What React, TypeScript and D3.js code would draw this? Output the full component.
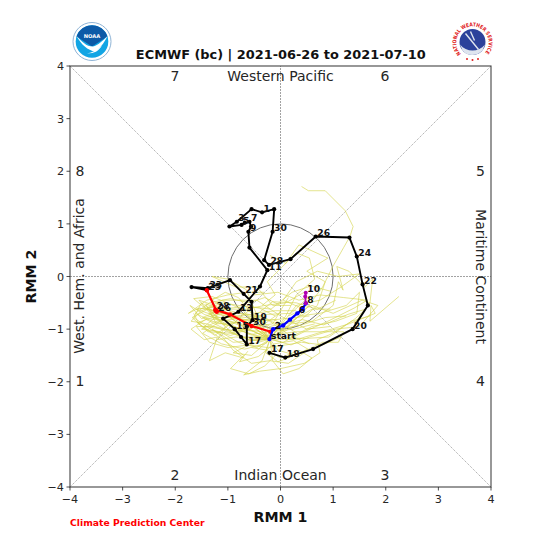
import React from "react";
import * as d3 from "d3";

type P = [number, number];

const titleText = "ECMWF (bc) | 2021-06-26 to 2021-07-10";
const axisTicks = [-4, -3, -2, -1, 0, 1, 2, 3, 4];

// Observed trajectory [rmm1, rmm2, label]
const observed: [number, number, string][] = [
  [-0.21, -1.45, "17"], [0.09, -1.54, "18"], [0.62, -1.38, ""], [1.37, -1.0, "20"], [1.66, -0.55, ""],
  [1.56, -0.15, "22"], [1.45, 0.38, "24"], [1.31, 0.74, ""], [0.67, 0.76, "26"], [0.19, 0.33, ""],
  [-0.22, 0.22, "28"], [-0.31, 0.31, ""], [-0.15, 0.85, "30"], [-0.12, 1.28, ""], [-0.35, 1.22, "1"],
  [-0.55, 1.28, ""], [-0.83, 1.04, "3"], [-0.97, 0.95, ""], [-0.74, 0.98, "5"], [-0.68, 1.02, ""],
  [-0.59, 1.04, "7"], [-0.56, 0.95, ""], [-0.61, 0.85, "9"], [-0.59, 0.55, ""], [-0.25, 0.12, "11"],
  [-0.39, -0.19, ""], [-0.8, -0.67, "13"], [-1.09, -0.8, ""], [-0.87, -1.0, "15"], [-0.75, -1.15, ""],
  [-0.64, -1.29, "17"], [-0.64, -0.95, ""], [-0.53, -0.83, "19"], [-0.55, -0.48, ""], [-0.7, -0.33, "21"],
  [-0.96, -0.07, ""], [-1.38, -0.22, "23"], [-1.69, -0.2, ""], [-1.4, -0.26, "25"],
];
const redPath: [number, number, string][] = [
  [-1.4, -0.26, ""], [-1.21, -0.67, "26"], [-1.23, -0.65, ""], [-1.24, -0.63, "28"], [-0.96, -0.72, ""],
  [-0.55, -0.94, "30"], [-0.19, -1.05, ""],
];
const bluePath: [number, number, string][] = [
  [-0.21, -1.19, "start"], [-0.14, -1.0, "2"], [0.05, -0.93, ""], [0.18, -0.82, ""], [0.32, -0.7, "6"],
  [0.42, -0.62, ""], [0.48, -0.51, "8"],
];
const magentaPath: [number, number, string][] = [
  [0.48, -0.51, ""], [0.47, -0.38, ""], [0.48, -0.31, "10"],
];

// Ensemble members, read by eye
const members: P[][] = [
  [[-0.2,-1.19],[0.1,-1.0],[0.5,-0.6],[0.8,-0.2],[1.0,0.2],[1.2,0.55],[1.32,0.76],[1.38,0.95],[1.23,1.25],[0.85,1.63],[0.53,1.63],[0.4,1.71]],
  [[-0.2,-1.19],[0.3,-1.2],[0.8,-1.05],[1.3,-0.9],[1.8,-0.7],[1.72,-0.55],[1.7,-0.85],[2.25,-0.38]],
  [[-0.2,-1.19],[0.2,-0.9],[0.6,-0.85],[1.0,-0.55],[1.1,-0.1],[1.19,-0.26],[1.07,0.19],[1.3,0.1],[1.6,-0.2],[1.75,-0.05],[1.7,-0.5],[1.4,-0.9]],
  [[-0.2,-1.19],[-0.6,-1.2],[-1.0,-1.05],[-1.4,-0.9],[-1.7,-0.85],[-1.5,-0.65],[-1.1,-0.5],[-0.8,-0.55],[-0.4,-0.6],[-0.1,-0.75]],
  [[-0.2,-1.19],[-0.5,-1.05],[-0.9,-0.95],[-1.3,-0.85],[-1.62,-0.7],[-1.35,-0.5],[-0.95,-0.42],[-0.6,-0.5],[-0.3,-0.4],[0.0,-0.55]],
  [[-0.2,-1.19],[-0.55,-0.95],[-0.95,-0.85],[-1.4,-0.8],[-1.7,-1.0],[-1.45,-1.2],[-1.2,-1.15],[-1.35,-1.6],[-1.05,-1.45],[-0.7,-1.55]],
  [[-0.2,-1.19],[-0.45,-1.35],[-0.8,-1.25],[-1.15,-1.05],[-1.5,-1.0],[-1.2,-0.85],[-0.8,-0.8],[-0.4,-0.85],[0.1,-0.8],[0.55,-0.75]],
  [[-0.2,-1.19],[-0.1,-1.5],[-0.3,-1.7],[-0.6,-1.85],[-0.95,-1.75],[-0.7,-1.5],[-0.95,-1.3],[-1.25,-1.1],[-1.55,-0.9],[-1.65,-0.7]],
  [[-0.2,-1.19],[-0.05,-1.4],[0.3,-1.5],[0.8,-1.25],[1.1,-1.25],[1.2,-1.05],[0.75,-1.05],[0.3,-1.05],[-0.1,-1.1],[-0.5,-1.15]],
  [[-0.2,-1.19],[-0.35,-1.6],[-0.7,-1.87],[-0.4,-1.8],[0.0,-1.75],[0.45,-1.65],[0.75,-1.45],[0.7,-1.2],[0.95,-1.1],[1.35,-0.85],[1.7,-0.75]],
  [[-0.2,-1.19],[0.05,-1.25],[0.45,-1.05],[0.9,-0.85],[1.4,-0.6],[1.65,-0.45],[1.2,-0.4],[0.75,-0.35],[0.35,-0.45],[-0.05,-0.3],[-0.5,-0.35]],
  [[-0.2,-1.19],[-0.7,-1.05],[-1.1,-1.0],[-1.45,-0.95],[-1.2,-0.75],[-1.5,-0.55],[-1.65,-0.42],[-1.3,-0.38],[-0.9,-0.55],[-0.5,-0.7],[-0.1,-0.65],[0.3,-0.65]],
  [[-0.2,-1.19],[-0.6,-1.1],[-1.05,-0.85],[-1.45,-0.72],[-1.72,-0.55],[-1.5,-0.8],[-1.1,-0.7],[-0.75,-0.7],[-0.35,-0.75],[0.0,-0.95]],
  [[-0.2,-1.19],[-0.25,-0.95],[-0.55,-0.7],[-0.8,-0.4],[-1.05,-0.3],[-1.3,-0.45],[-1.05,-0.6],[-0.7,-0.85],[-0.35,-1.0]],
  [[-0.2,-1.19],[-0.45,-1.15],[-0.85,-1.15],[-1.2,-1.2],[-1.05,-0.95],[-1.35,-0.7],[-1.0,-0.62],[-0.65,-0.62],[-0.3,-0.55],[0.1,-0.5],[0.45,-0.3]],
  [[-0.2,-1.19],[0.0,-1.05],[0.35,-0.75],[0.75,-0.7],[1.25,-0.55],[1.5,-0.3],[1.45,-0.7],[1.05,-0.85],[0.6,-0.95],[0.2,-1.15]],
  [[-0.2,-1.19],[0.1,-0.75],[0.3,-0.35],[0.65,-0.05],[0.55,0.35],[0.3,0.45],[0.05,0.2],[-0.25,-0.1],[-0.1,-0.35],[-0.35,-0.55]],
  [[-0.2,-1.19],[0.25,-0.95],[0.7,-0.55],[0.85,-0.1],[0.5,0.1],[0.9,0.35],[0.35,0.6],[0.1,0.25],[-0.2,0.4]],
  [[-0.2,-1.19],[-0.4,-0.85],[-0.65,-0.25],[-1.0,-0.05],[-1.3,0.0],[-0.85,-0.2],[-0.45,-0.2],[-0.15,-0.55],[0.2,-0.55]],
  [[-0.2,-1.19],[0.2,-1.3],[0.55,-1.15],[1.05,-1.0],[1.5,-0.95],[1.85,-0.55],[1.55,-0.45],[1.0,-0.7],[0.6,-0.55],[0.15,-0.75]],
  [[-0.2,-1.19],[-0.6,-1.3],[-1.0,-1.35],[-1.35,-1.25],[-1.6,-0.95],[-1.25,-0.95],[-0.85,-1.05],[-0.5,-0.95],[-0.15,-0.9],[0.15,-0.4]],
  [[-0.2,-1.19],[-0.55,-1.5],[-0.9,-1.45],[-0.6,-1.3],[-0.25,-1.35],[0.1,-1.3],[0.4,-1.25],[0.8,-1.3],[1.15,-1.15]],
  [[-0.2,-1.19],[-0.5,-0.8],[-0.9,-0.75],[-1.25,-0.65],[-1.55,-0.6],[-1.75,-0.7],[-1.4,-0.45],[-1.0,-0.35],[-0.65,-0.3],[-0.3,-0.3]],
  [[-0.2,-1.19],[0.3,-0.55],[0.75,-0.45],[1.15,-0.2],[1.5,0.05],[1.1,0.0],[0.7,0.1],[0.3,-0.1],[0.05,-0.45],[0.4,-0.6]],
  [[-0.2,-1.19],[-0.15,-1.6],[0.05,-1.85],[0.35,-1.75],[0.6,-1.55],[0.35,-1.4],[0.0,-1.55],[-0.25,-1.4],[-0.55,-1.35]],
  [[-0.2,-1.19],[-0.8,-0.9],[-1.25,-0.55],[-1.55,-0.45],[-1.3,-0.75],[-0.95,-0.95],[-0.55,-1.1],[-0.2,-1.05],[0.25,-1.0],[0.65,-0.9]],
  [[-0.2,-1.19],[-0.35,-1.05],[-0.75,-1.0],[-1.1,-0.9],[-1.4,-0.6],[-1.1,-0.45],[-0.75,-0.45],[-0.45,-0.45],[0.0,-0.75],[0.5,-1.0],[0.95,-0.95]],
  [[-0.2,-1.19],[-0.9,-1.25],[-1.3,-1.0],[-1.1,-1.15],[-0.9,-1.4],[-0.55,-1.65],[-0.2,-1.6],[0.15,-1.65],[0.45,-1.45]],
  [[-0.2,-1.19],[-0.65,-0.98],[-1.15,-0.78],[-1.6,-0.62],[-1.2,-0.58],[-0.85,-0.68],[-0.5,-0.78],[-0.2,-0.95],[0.2,-0.85],[0.6,-0.62],[0.95,-0.62]],
  [[-0.2,-1.19],[-0.7,-0.82],[-1.2,-0.72],[-1.5,-0.5],[-1.65,-0.78],[-1.3,-1.02],[-0.95,-1.12],[-0.6,-1.0],[-0.3,-0.9],[0.0,-0.68]],
  [[-0.2,-1.19],[-0.4,-0.98],[-0.85,-0.78],[-1.3,-0.78],[-1.58,-0.88],[-1.25,-1.12],[-0.95,-0.9],[-0.65,-0.82],[-0.25,-0.72],[0.2,-0.7],[0.5,-0.42]],
  [[-0.2,-1.19],[-0.55,-1.22],[-0.95,-1.05],[-1.35,-0.62],[-1.05,-0.72],[-0.7,-0.95],[-0.45,-0.72],[-0.15,-0.48],[0.3,-0.5],[0.7,-0.62],[1.05,-0.45]],
  [[-0.2,-1.19],[-0.75,-1.15],[-1.25,-0.9],[-1.48,-0.78],[-1.12,-0.62],[-0.78,-0.58],[-0.42,-0.95],[-0.05,-1.0],[0.4,-0.92],[0.85,-0.78],[1.25,-0.75]],
  [[-0.2,-1.19],[-0.62,-0.88],[-1.02,-0.68],[-1.42,-0.52],[-1.22,-0.9],[-0.88,-0.88],[-0.52,-0.58],[-0.18,-0.62],[0.22,-0.3],[0.58,-0.18],[0.95,-0.28]],
  [[-0.2,-1.19],[-0.3,-1.28],[-0.68,-1.38],[-1.12,-1.28],[-1.48,-1.08],[-1.05,-0.78],[-0.62,-0.72],[-0.25,-0.82],[0.18,-1.12],[0.55,-1.28]],
  [[-0.2,-1.19],[-0.48,-0.9],[-0.92,-1.08],[-1.38,-1.05],[-1.68,-0.78],[-1.38,-0.62],[-0.98,-0.78],[-0.55,-0.85],[-0.12,-0.82],[0.32,-1.08]],
  [[-0.2,-1.19],[-0.02,-1.15],[0.42,-1.18],[0.92,-1.15],[1.42,-0.8],[1.62,-0.62],[1.28,-0.72],[0.82,-0.92],[0.42,-0.82],[0.02,-0.92],[-0.28,-1.28]],
  [[-0.2,-1.19],[-0.28,-1.45],[-0.05,-1.62],[0.22,-1.52],[0.52,-1.38],[0.25,-1.22],[-0.12,-1.28],[-0.42,-1.52],[-0.78,-1.62],[-0.62,-1.42]],
];

const W = 547;
const x = d3.scaleLinear().domain([-4, 4]).range([70, 491]);
const y = d3.scaleLinear().domain([-4, 4]).range([487, 66]);
const path = d3.line<any>().x((d) => x(d[0])).y((d) => y(d[1]));

const FONT = "'DejaVu Sans', sans-serif";
const INK = "#262626";

function Track({ pts, color, width, r }: { pts: [number, number, string][]; color: string; width: number; r: number }) {
  return (
    <g>
      <path d={path(pts) as string} fill="none" stroke={color} strokeWidth={width} strokeLinejoin="round" />
      {pts.map((d, i) => (
        <circle key={i} cx={x(d[0])} cy={y(d[1])} r={r} fill={color} />
      ))}
    </g>
  );
}

function Labels({ pts }: { pts: [number, number, string][] }) {
  return (
    <g fontFamily={FONT} fontWeight="bold" fontSize={9.2} fill="#111">
      {pts.filter((d) => d[2]).map((d, i) => (
        <text key={i} x={x(d[0]) + 1.5} y={y(d[1]) - 0.5}>{d[2]}</text>
      ))}
    </g>
  );
}

export default function App() {
  const arcId = "nwsArc";
  return (
    <svg width={W} height={W} viewBox={`0 0 ${W} ${W}`} style={{ position: "absolute", left: 0, top: 0, background: "#fff" }}>
      {/* reference lines */}
      <g fill="none">
        <line x1={x(-4)} y1={y(-4)} x2={x(4)} y2={y(4)} stroke="#aaa" strokeWidth={1} strokeDasharray="1.2 1" />
        <line x1={x(-4)} y1={y(4)} x2={x(4)} y2={y(-4)} stroke="#aaa" strokeWidth={1} strokeDasharray="1.2 1" />
        <line x1={x(0)} y1={y(-4)} x2={x(0)} y2={y(4)} stroke="#8a8a8a" strokeWidth={0.8} strokeDasharray="2 1" />
        <line x1={x(-4)} y1={y(0)} x2={x(4)} y2={y(0)} stroke="#8a8a8a" strokeWidth={0.8} strokeDasharray="2 1" />
        <circle cx={x(0)} cy={y(0)} r={x(1) - x(0)} stroke="#6e6e6e" strokeWidth={1} />
      </g>

      {/* ensemble */}
      <g fill="none" stroke="#d4d44e" strokeOpacity={0.75} strokeWidth={0.85}>
        {members.map((m, i) => <path key={i} d={path(m) as string} />)}
      </g>

      <Track pts={observed} color="#000" width={1.9} r={2.1} />
      <Track pts={redPath} color="#f00" width={2.2} r={2.2} />
      <Track pts={bluePath} color="#00f" width={2.2} r={2.2} />
      <Track pts={magentaPath} color="#b000b0" width={1.8} r={2.0} />
      <Labels pts={observed} />
      <Labels pts={redPath} />
      <Labels pts={bluePath} />
      <Labels pts={magentaPath} />

      {/* frame and ticks */}
      <rect x={70} y={66} width={421} height={421} fill="none" stroke="#444" strokeWidth={1.1} />
      <g stroke="#222" strokeWidth={0.8}>
        {axisTicks.map((t) => <line key={"x" + t} x1={x(t)} x2={x(t)} y1={487} y2={490.5} />)}
        {axisTicks.map((t) => <line key={"y" + t} y1={y(t)} y2={y(t)} x1={66.5} x2={70} />)}
      </g>
      <g fontFamily={FONT} fontSize={11.2} fill={INK}>
        {axisTicks.map((t) => (
          <text key={"xl" + t} x={x(t)} y={503} textAnchor="middle">{d3.format("")(t).replace("-", "\u2212")}</text>
        ))}
        {axisTicks.map((t) => (
          <text key={"yl" + t} x={64} y={y(t) + 4} textAnchor="end">{d3.format("")(t).replace("-", "\u2212")}</text>
        ))}
      </g>

      {/* phase annotations */}
      <g fontFamily={FONT} fontSize={14} fill={INK} textAnchor="middle">
        <text x={175} y={80.5}>7</text>
        <text x={385} y={80.5}>6</text>
        <text x={280.5} y={80.5}>Western Pacific</text>
        <text x={175} y={480}>2</text>
        <text x={385} y={480}>3</text>
        <text x={280.5} y={480}>Indian Ocean</text>
        <text x={80} y={175.5}>8</text>
        <text x={80} y={385.5}>1</text>
        <text x={480.5} y={175.5}>5</text>
        <text x={480.5} y={385.5}>4</text>
        <text transform="translate(84,276) rotate(-90)">West. Hem. and Africa</text>
        <text transform="translate(476,276.5) rotate(90)">Maritime Continent</text>
      </g>

      {/* titles */}
      <text x={280.8} y={59} textAnchor="middle" fontFamily={FONT} fontWeight="bold" fontSize={12.9} fill="#111">{titleText}</text>
      <text x={280.5} y={522} textAnchor="middle" fontFamily={FONT} fontWeight="bold" fontSize={14.2} fill="#111">RMM 1</text>
      <text transform="translate(36,276.5) rotate(-90)" textAnchor="middle" fontFamily={FONT} fontWeight="bold" fontSize={14.2} fill="#111">RMM 2</text>
      <text x={70} y={526} fontFamily={FONT} fontWeight="bold" fontSize={9.25} fill="#f00">Climate Prediction Center</text>

      {/* NOAA logo */}
      <g transform="translate(92,41.5)">
        <circle r={19} fill="#fff" stroke="#8fb4d6" strokeWidth={1} />
        <circle r={16.3} fill="#12a5e4" />
        <path d="M-15.5,-5 A16.3,16.3 0 0 1 15.5,-5 L0,5 Z" fill="#0d5aa7" />
        <path d="M-15.5,-5.5 C-10,0 -6,5 1,5 C6,4 11,-1 15.5,-5.5 C12,2 7,8 3,10 C-4,9 -11,3 -15.5,-5.5 Z" fill="#fff" />
        <path d="M-5,12 C0,11 6,8 10,4 C7,9 3,12 -5,12 Z" fill="#fff" />
        <text y={-3.5} textAnchor="middle" fontFamily={FONT} fontWeight="bold" fontSize={5.2} fill="#fff">NOAA</text>
      </g>

      {/* NWS logo */}
      <g transform="translate(472.5,42.5)">
        <circle r={19.5} fill="#fff" />
        <defs>
          <path id={arcId} d="M-11.5,11.5 A16.2,16.2 0 1 1 11.5,11.5" />
        </defs>
        <text fontFamily={FONT} fontWeight="bold" fontSize={5.3} fill="#e02020">
          <textPath href={`#${arcId}`} textLength={74} lengthAdjust="spacingAndGlyphs">NATIONAL WEATHER SERVICE</textPath>
        </text>
        <circle cx={0} cy={-0.5} r={13} fill="#2c429b" />
        <path d="M-12.5,2 C-6,10 6,10 12.5,2 L10,8 C4,14 -5,14 -10,8 Z" fill="#dfe5ef" />
        <path d="M-7,-9 L6,7 M-2,-11 L2,-2" stroke="#dfe5ef" strokeWidth={1.4} fill="none" />
        <g fill="#e02020">
          <circle cx={-5.5} cy={16.5} r={1} /><circle cx={0} cy={17.5} r={1} /><circle cx={5.5} cy={16.5} r={1} />
        </g>
      </g>
    </svg>
  );
}
